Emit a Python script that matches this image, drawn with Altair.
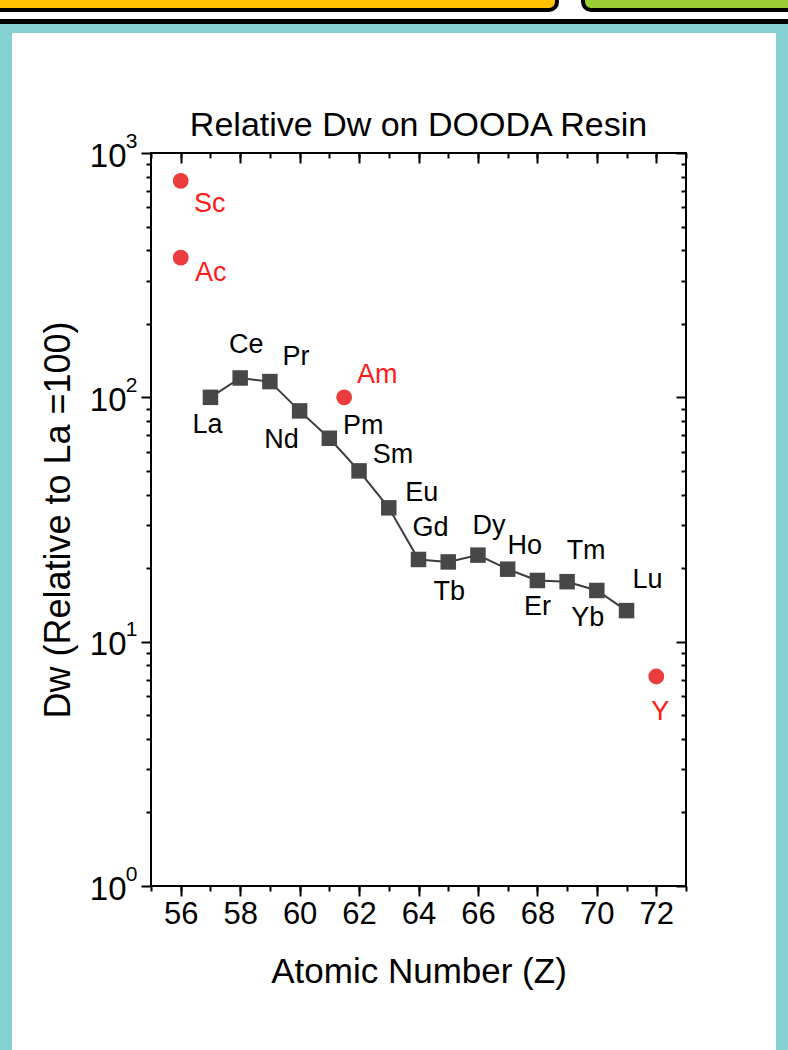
import altair as alt
import pandas as pd

FONT = "Liberation Sans"

# ---- data ----
ln_elements = ["La", "Ce", "Pr", "Nd", "Pm", "Sm", "Eu", "Gd", "Tb", "Dy", "Ho", "Er", "Tm", "Yb", "Lu"]
ln_z = [57, 58, 59, 60, 61, 62, 63, 64, 65, 66, 67, 68, 69, 70, 71]
ln_dw = [100, 120, 116, 88, 68, 50, 35.3, 21.7, 21.2, 22.6, 19.8, 17.8, 17.6, 16.2, 13.4]

other_elements = ["Sc", "Ac", "Am", "Y"]
other_z = [56, 56, 61.5, 72]
other_dw = [769, 373, 100, 7.2]

x_major = [56, 58, 60, 62, 64, 66, 68, 70, 72]
x_minor = list(range(55, 74))
y_major = [1, 10, 100, 1000]
y_exponents = {1: "0", 10: "1", 100: "2", 1000: "3"}
y_minor = [m * 10 ** e for e in range(3) for m in range(2, 10)]

# label offsets (pixels) for each element label
label_dx = {"La": -3, "Ce": 6, "Pr": 26, "Nd": -18, "Pm": 34, "Sm": 34, "Eu": 33, "Gd": 12,
            "Tb": 1, "Dy": 11, "Ho": 17, "Er": 0, "Tm": 19, "Yb": -9, "Lu": 21,
            "Sc": 29, "Ac": 30, "Am": 33, "Y": 4}
label_dy = {"La": 28, "Ce": -33, "Pr": -25, "Nd": 29, "Pm": -12, "Sm": -16, "Eu": -15, "Gd": -31,
            "Tb": 30, "Dy": -29, "Ho": -23, "Er": 27, "Tm": -31, "Yb": 28, "Lu": -31,
            "Sc": 23, "Ac": 15, "Am": -22, "Y": 35}

ln_df = pd.DataFrame({"El": ln_elements, "Z": ln_z, "Dw": ln_dw, "grp": "ln"})
ot_df = pd.DataFrame({"El": other_elements, "Z": other_z, "Dw": other_dw, "grp": "other"})
all_df = pd.concat([ln_df, ot_df], ignore_index=True)

W, H = 535, 733
PL, PT = 151, 153
DECO_TOP = -30  # top edge of the decorative header boxes (absolute px)

xscale = alt.Scale(domain=[55, 73], nice=False, zero=False)
yscale = alt.Scale(type="log", domain=[1, 1000], nice=False)

common = dict(grid=False, domain=False, tickColor="black", tickWidth=2)

x_bottom_major = alt.Axis(orient="bottom", values=x_major, tickSize=10, labelFontSize=31, labelFont=FONT,
                          labelColor="black", labelPadding=3, format="d", title="Atomic Number (Z)",
                          titleFontSize=35, titleFont=FONT, titleFontWeight="normal", titleColor="black",
                          titlePadding=25, **common)
x_bottom_minor = alt.Axis(orient="bottom", values=x_minor, tickSize=5, labels=False, title=None, **common)
x_top_major = alt.Axis(orient="bottom", offset=-H, values=x_major, tickSize=10, labels=False, title=None, **common)
x_top_minor = alt.Axis(orient="bottom", offset=-H, values=x_minor, tickSize=5, labels=False, title=None, **common)

y_left_major = alt.Axis(orient="left", values=y_major, tickSize=10, labelFontSize=33, labelFont=FONT,
                        labelColor="black", labelPadding=15, labelOffset=3, labelExpr="'10'",
                        title="Dw (Relative to La =100)", titleFontSize=36, titleFont=FONT,
                        titleFontWeight="normal", titleColor="black", titlePadding=12, **common)
exp_expr = " : ".join(f"datum.value == {v} ? '{e}'" for v, e in y_exponents.items()) + " : ''"
y_left_exp = alt.Axis(orient="left", values=y_major, ticks=False, labelFontSize=21, labelFont=FONT,
                      labelColor="black", labelPadding=14, labelOffset=-12, labelExpr=exp_expr,
                      title=None, grid=False, domain=False)
y_left_minor = alt.Axis(orient="left", values=y_minor, tickSize=5, labels=False, title=None, **common)
y_right_major = alt.Axis(orient="left", offset=-W, values=y_major, tickSize=10, labels=False, title=None, **common)
y_right_minor = alt.Axis(orient="left", offset=-W, values=y_minor, tickSize=5, labels=False, title=None, **common)

# ---- decorative slide frame (not data) ----
deco = []
def rect(x1, x2, y1, y2, fill, stroke=None, sw=0, cr=0):
    kw = dict(fill=fill, cornerRadius=cr)
    if stroke:
        kw.update(stroke=stroke, strokeWidth=sw)
    return alt.Chart(pd.DataFrame({"a": [0]})).mark_rect(**kw).encode(
        x=alt.value(x1 - PL), x2=alt.value(x2 - PL), y=alt.value(y1 - PT), y2=alt.value(y2 - PT))

deco.append(rect(-20, 557, DECO_TOP, 10, "#FFC000", "black", 4, 8))
deco.append(rect(583, 810, DECO_TOP, 10, "#9ACD32", "black", 4, 8))
deco.append(rect(-5, 800, 19, 24, "black"))
deco.append(rect(-5, 800, 24, 33, "#84D0D3"))
deco.append(rect(-5, 12, 24, 1060, "#84D0D3"))
deco.append(rect(776, 800, 24, 1060, "#84D0D3"))

line = alt.Chart(ln_df).mark_line(color="#3c3c3c", strokeWidth=2).encode(
    x=alt.X("Z:Q", scale=xscale, axis=x_bottom_major),
    y=alt.Y("Dw:Q", scale=yscale, axis=y_left_major))

squares = alt.Chart(ln_df).mark_point(shape="square", filled=True, size=240, color="#474747", opacity=1).encode(
    x=alt.X("Z:Q", scale=xscale, axis=x_bottom_minor),
    y=alt.Y("Dw:Q", scale=yscale, axis=y_left_minor))

circles = alt.Chart(ot_df).mark_point(shape="circle", filled=True, size=250, color="#EB3D3D", opacity=1).encode(
    x=alt.X("Z:Q", scale=xscale, axis=x_top_major),
    y=alt.Y("Dw:Q", scale=yscale, axis=y_right_major))

labels = []
for i, el in enumerate(ln_elements + other_elements):
    color = "black" if el in ln_elements else "#FF1A1A"
    xa = x_top_minor if i == 0 else None
    if i == 0:
        ya = y_right_minor
    elif i == 1:
        ya = y_left_exp
    else:
        ya = None
    t = alt.Chart(all_df).transform_filter(alt.datum.El == el).mark_text(
        font=FONT, fontSize=27, color=color, align="center", baseline="middle",
        dx=label_dx[el], dy=label_dy[el]).encode(
        x=alt.X("Z:Q", scale=xscale, axis=xa),
        y=alt.Y("Dw:Q", scale=yscale, axis=ya),
        text="El:N")
    labels.append(t)

# Vega places a top title relative to the top of everything drawn (the header boxes),
# so a negative offset brings it back down to just above the plot frame.
view_top = DECO_TOP - PT - 2
title_bottom = 143 - PT
title_offset = view_top - title_bottom

chart = alt.layer(*deco, line, squares, circles, *labels).resolve_axis(
    x="independent", y="independent"
).properties(
    width=W, height=H,
    padding={"left": PL, "top": PT, "right": 788 - PL - W, "bottom": 1050 - PT - H},
    autosize=alt.AutoSizeParams(type="none"),
    background="white",
    title=alt.TitleParams("Relative Dw on DOODA Resin", fontSize=34, font=FONT, fontWeight="normal",
                          color="black", anchor="middle", offset=title_offset, frame="group"),
).configure_view(stroke="black", strokeWidth=2)

chart.save("out.html", embed_options={"renderer": "svg", "actions": False})
